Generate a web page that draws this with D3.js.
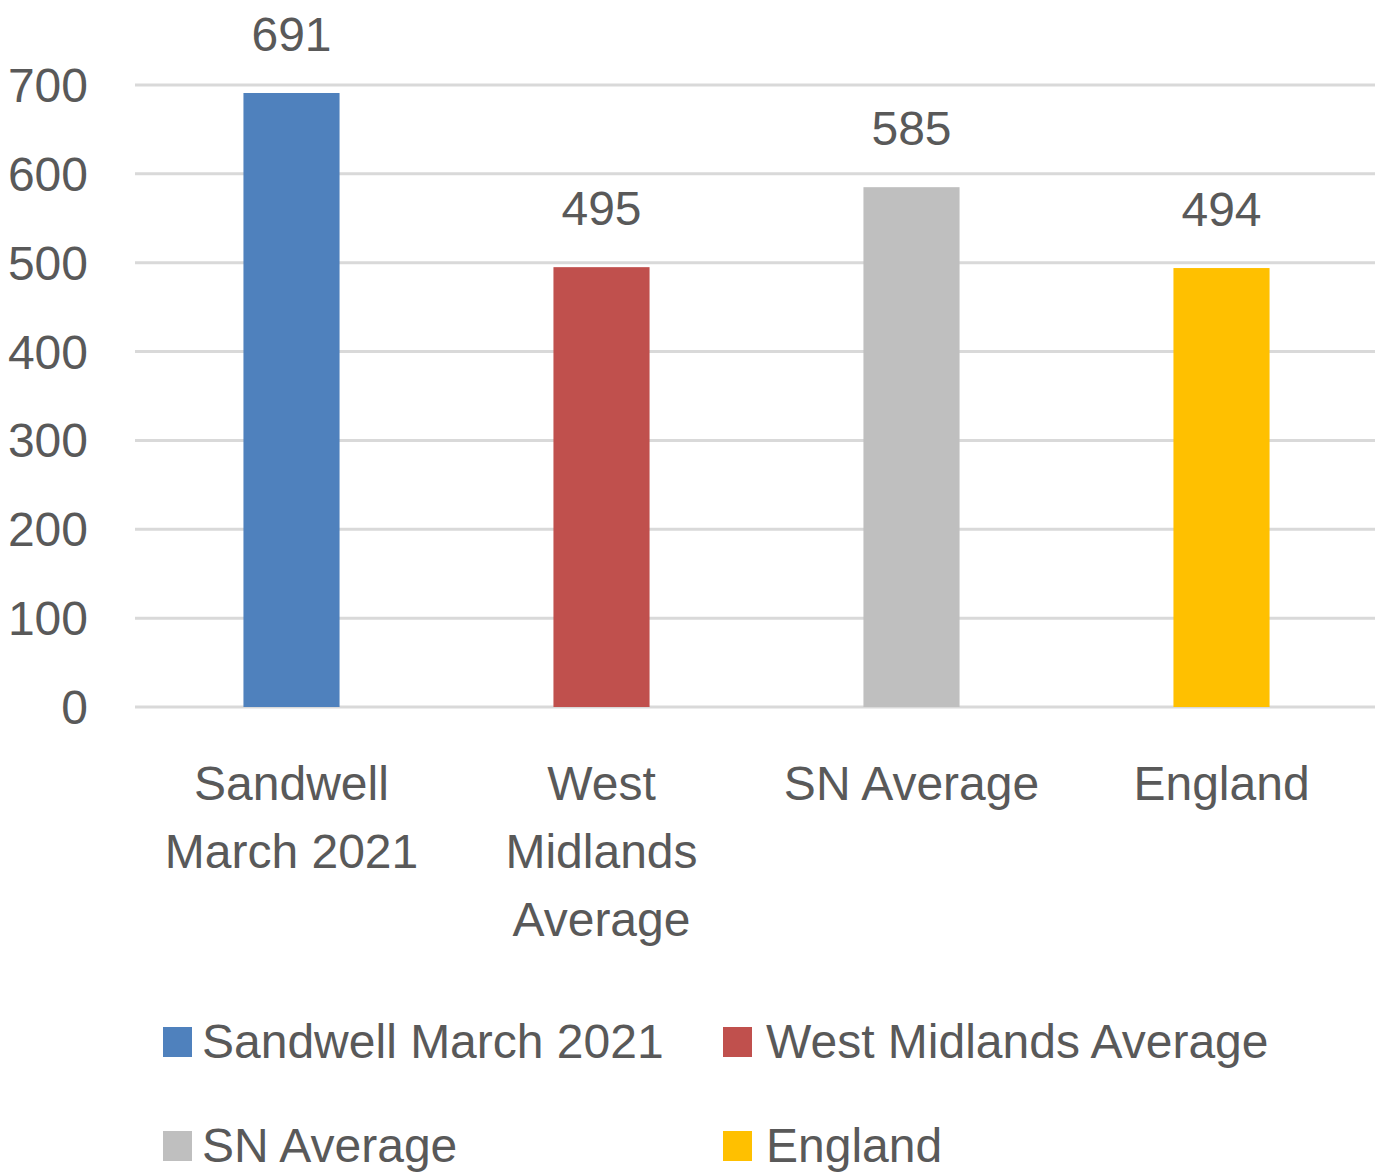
<!DOCTYPE html>
<html>
<head>
<meta charset="utf-8">
<script src="https://cdn.jsdelivr.net/npm/d3@7"></script>
<style>
html,body{margin:0;padding:0;background:#fff;}
svg text{font-family:"Liberation Sans",Arial,sans-serif;fill:#595959;}
</style>
</head>
<body>
<svg id="chart" width="1380" height="1173"></svg>
<script>
const categories = ["Sandwell March 2021", "West Midlands Average", "SN Average", "England"];
const categoryLines = [["Sandwell", "March 2021"], ["West", "Midlands", "Average"], ["SN Average"], ["England"]];
const values = [691, 495, 585, 494];
const colors = ["#4F81BD", "#C0504D", "#BFBFBF", "#FFC000"];
const yTicks = [0, 100, 200, 300, 400, 500, 600, 700];

(function () {
const svg = d3.select("#chart");
const plotLeft = 135, plotRight = 1375, plotTop = 85, plotBottom = 707;

const x = d3.scaleBand().domain(categories).range([plotLeft + 1.5, plotRight + 1.5]).paddingInner(0.69).paddingOuter(0.345);
const y = d3.scaleLinear().domain([0, 700]).range([plotBottom, plotTop]);

// gridlines
svg.append("g").selectAll("line").data(yTicks).join("line")
  .attr("x1", plotLeft).attr("x2", plotRight)
  .attr("y1", d => y(d)).attr("y2", d => y(d))
  .attr("stroke", "#d9d9d9").attr("stroke-width", 3);

// y tick labels
svg.append("g").selectAll("text").data(yTicks).join("text")
  .attr("x", 88).attr("y", d => y(d) + 17)
  .attr("text-anchor", "end").attr("font-size", 48)
  .text(d => d);

// bars
svg.append("g").selectAll("rect").data(values).join("rect")
  .attr("x", (d, i) => x(categories[i]))
  .attr("width", x.bandwidth())
  .attr("y", d => y(d))
  .attr("height", d => y(0) - y(d))
  .attr("fill", (d, i) => colors[i]);

// data labels
svg.append("g").selectAll("text").data(values).join("text")
  .attr("x", (d, i) => x(categories[i]) + x.bandwidth() / 2)
  .attr("y", d => y(d) - 42)
  .attr("text-anchor", "middle").attr("font-size", 48)
  .text(d => d);

// category labels
const cat = svg.append("g").selectAll("text").data(categories).join("text")
  .attr("text-anchor", "middle").attr("font-size", 48)
  .attr("x", d => x(d) + x.bandwidth() / 2)
  .attr("y", 800);
cat.each(function(d, i) {
  const t = d3.select(this);
  categoryLines[i].forEach((ln, j) => {
    t.append("tspan").attr("x", x(d) + x.bandwidth() / 2).attr("y", 800 + j * 68).text(ln);
  });
});

// legend
const legX = [163, 723], legTextDx = [39, 43], legY = [1058, 1162];
const leg = svg.append("g").selectAll("g").data(categories).join("g")
  .attr("transform", (d, i) => `translate(${legX[i % 2]},${legY[Math.floor(i / 2)]})`);
leg.append("rect").attr("x", 0).attr("y", -31).attr("width", 29).attr("height", 30)
  .attr("fill", (d, i) => colors[i]);
leg.append("text").attr("x", (d, i) => legTextDx[i % 2]).attr("y", 0).attr("font-size", 48).text(d => d);
})();
</script>
</body>
</html>
